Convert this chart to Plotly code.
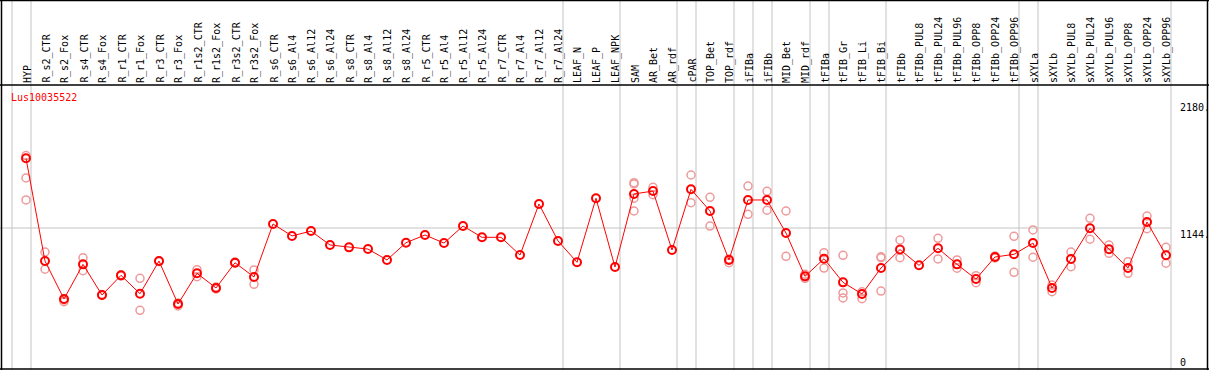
import plotly.graph_objects as go

categories = ["HYP", "R_s2_CTR", "R_s2_Fox", "R_s4_CTR", "R_s4_Fox", "R_r1_CTR", "R_r1_Fox",
              "R_r3_CTR", "R_r3_Fox", "R_r1s2_CTR", "R_r1s2_Fox", "R_r3s2_CTR", "R_r3s2_Fox",
              "R_s6_CTR", "R_s6_Al4", "R_s6_Al12", "R_s6_Al24", "R_s8_CTR", "R_s8_Al4", "R_s8_Al12",
              "R_s8_Al24", "R_r5_CTR", "R_r5_Al4", "R_r5_Al12", "R_r5_Al24", "R_r7_CTR", "R_r7_Al4",
              "R_r7_Al12", "R_r7_Al24", "LEAF_N", "LEAF_P", "LEAF_NPK", "SAM", "AR_Bet", "AR_rdf",
              "cPAR", "TOP_Bet", "TOP_rdf", "iFIBa", "iFIBb", "MID_Bet", "MID_rdf", "tFIBa",
              "tFIB_Gr", "tFIB_Li", "tFIB_Bi", "tFIBb", "tFIBb_PUL8", "tFIBb_PUL24", "tFIBb_PUL96",
              "tFIBb_OPP8", "tFIBb_OPP24", "tFIBb_OPP96", "sXYLa", "sXYLb", "sXYLb_PUL8",
              "sXYLb_PUL24", "sXYLb_PUL96", "sXYLb_OPP8", "sXYLb_OPP24", "sXYLb_OPP96"]

means = [1714, 874, 564, 847, 596, 757, 607, 874, 523, 774, 654, 860, 744,
         1177, 1079, 1119, 1005, 986, 972, 883, 1024, 1087, 1021, 1160, 1068, 1068, 923, 1340, 1038,
         864, 1387, 825, 1422, 1446, 964, 1460, 1283, 883, 1373, 1373, 1103, 749, 893,
         700, 605, 817, 968, 839, 978, 847, 727, 907, 929, 1021, 654, 891, 1142, 970, 817, 1193, 921]

replicates = [[1736, 1553, 1373], [948, 807], [556, 542], [901, 795], [593, 600], [760, 752],
              [733, 471], [874, 870], [531, 507], [803, 746], [662, 646], [866, 858], [801, 684],
              [], [], [], [], [], [], [], [], [], [], [], [], [], [], [], [],
              [], [], [], [1514, 1504, 1387, 1283], [1477, 1416], [], [1577, 1351], [1395, 1160],
              [860, 891], [1487, 1256], [1444, 1289], [1283, 913], [733, 766], [942, 817],
              [921, 613, 572], [623, 566], [909, 901, 629], [1046, 901], [], [1060, 891], [883, 815],
              [754, 697], [915, 899], [1076, 782], [1128, 905], [678, 623], [948, 828], [1223, 1052],
              [1005, 937], [869, 774], [1242, 1138], [986, 856]]

group_sizes = [1, 28, 3, 3, 1, 2, 1, 1, 2, 1, 3, 7, 1, 7]
ytick_vals = [2180, 1144, 0]
ytick_text = ["2180.", "1144.", "0"]
gene_id = "Lus10035522"

W, H = 1209, 370
x0_px, step_px = 26, 19
xr = [(0 - x0_px) / step_px, (W - x0_px) / step_px]
header_py = 85
bottom_py = 369
# y: 1144 at py 228, 0 at py 368
scale = 1144 / (368 - 228)
yr = [(368 - bottom_py) * scale, (368 - header_py) * scale]
ydom = [(H - bottom_py) / H, (H - header_py) / H]

xs = list(range(len(categories)))
rx, ry = [], []
for i, reps in enumerate(replicates):
    for v in reps:
        rx.append(i)
        ry.append(v)

fig = go.Figure()
fig.add_trace(go.Scatter(x=rx, y=ry, mode="markers",
                         marker=dict(symbol="circle-open", size=8, color="#ee9a9a",
                                     line=dict(width=1.5)),
                         hoverinfo="skip", showlegend=False))
fig.add_trace(go.Scatter(x=xs, y=means, mode="lines+markers",
                         line=dict(color="#ff0000", width=1),
                         marker=dict(symbol="circle-open", size=8, color="#ff0000",
                                     line=dict(width=2)),
                         text=categories, showlegend=False))

shapes = []
grey = "#c4c4c4"
# group separators
sep = -1
seps = [sep]
for g in group_sizes:
    sep += g
    seps.append(sep)
off = 5 / step_px
for s in seps:
    shapes.append(dict(type="line", xref="x", yref="paper", x0=s + off, x1=s + off, y0=0, y1=1,
                       line=dict(color=grey, width=1), layer="below"))
shapes.append(dict(type="line", xref="paper", yref="y", x0=0, x1=(seps[-1] + off - xr[0]) / (xr[1] - xr[0]),
                   y0=ytick_vals[1], y1=ytick_vals[1], line=dict(color=grey, width=1), layer="below"))
# frame lines
blk = dict(color="black", width=1.5)
shapes.append(dict(type="line", xref="paper", yref="paper", x0=0, x1=1, y0=1 - 0.5 / H, y1=1 - 0.5 / H, line=blk))
shapes.append(dict(type="line", xref="paper", yref="paper", x0=0, x1=1,
                   y0=(H - header_py) / H, y1=(H - header_py) / H, line=blk))
shapes.append(dict(type="line", xref="paper", yref="paper", x0=0, x1=1,
                   y0=(H - bottom_py) / H, y1=(H - bottom_py) / H, line=blk))
shapes.append(dict(type="line", xref="paper", yref="paper", x0=1.5 / W, x1=1.5 / W, y0=0, y1=1, line=blk))
shapes.append(dict(type="line", xref="paper", yref="paper", x0=1 - 1.5 / W, x1=1 - 1.5 / W, y0=0, y1=1, line=blk))

font = dict(family="DejaVu Sans Mono", size=10, color="black")
ann = []
for i, c in enumerate(categories):
    ann.append(dict(x=i, y=(H - header_py + 2) / H, xref="x", yref="paper", text=c, textangle=-90,
                    showarrow=False, xanchor="center", yanchor="bottom", font=font, xshift=1,
                    borderpad=0, borderwidth=0))
ann.append(dict(x=9 / W, y=(H - 97.5) / H, xref="paper", yref="paper", text=gene_id,
                showarrow=False, xanchor="left", yanchor="middle",
                font=dict(family="DejaVu Sans Mono", size=10, color="#ff0000")))
for v, t in zip(ytick_vals, ytick_text):
    ann.append(dict(x=1178 / W, y=v, xref="paper", yref="y", text=t, showarrow=False,
                    xanchor="left", yanchor="middle", yshift=(6 if v == 0 else -6), font=font))

fig.update_layout(width=W, height=H, margin=dict(l=0, r=0, t=0, b=0),
                  paper_bgcolor="white", plot_bgcolor="white",
                  xaxis=dict(range=xr, visible=False, fixedrange=True),
                  yaxis=dict(range=yr, domain=ydom, visible=False, fixedrange=True),
                  shapes=shapes, annotations=ann, showlegend=False)

fig.write_html("out.html", config={"displayModeBar": False},
               post_script="document.body.style.margin='0';document.body.style.overflow='hidden';")
